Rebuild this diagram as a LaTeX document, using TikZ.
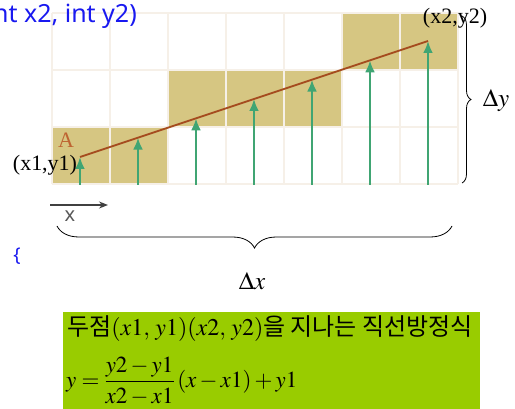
\documentclass[tikz,border=0pt]{standalone}
\usepackage{amsmath}
\usepackage{mathptmx}
\usepackage{fontspec}
\setmainfont{Liberation Serif}
\newfontfamily\kofont{Noto Sans CJK KR}
\newfontfamily\codefont{Noto Sans}
\usetikzlibrary{arrows.meta,positioning,decorations.pathreplacing}
\definecolor{cellfill}{RGB}{214,198,130}
\definecolor{gridcol}{RGB}{246,240,232}
\definecolor{segcol}{RGB}{165,75,30}
\definecolor{arrcol}{RGB}{64,165,115}
\definecolor{codeblue}{RGB}{25,25,240}
\definecolor{boxgreen}{RGB}{153,204,0}
\definecolor{labA}{RGB}{190,100,50}
\tikzset{
  gridln/.style={draw=gridcol, line width=1.5pt},
  stemarrow/.style={-{Latex[length=12pt,width=10pt]}, line width=2.4pt, arrcol},
  segln/.style={segcol, line width=1.8pt},
  bracedeco/.style={decorate, decoration={brace, amplitude=#1}, line width=0.8pt},
  bracelabel/.style={font=\fontsize{25}{27}\selectfont, inner sep=0pt},
  ptlabel/.style={font=\fontsize{22}{24}\selectfont, inner sep=0pt},
}
\begin{document}
\begin{tikzpicture}[x=1pt, y=-1pt]
    \useasboundingbox (0,0) rectangle (515,409);
    % Shaded pixels
    \fill[cellfill] (52,127) rectangle (168,184);
    \fill[cellfill] (168,70) rectangle (342,127);
    \fill[cellfill] (342,13) rectangle (458,70);
    % Pixel grid
    \foreach \k in {0,...,7}
      \draw[gridln] ({52+58*\k},13) -- ({52+58*\k},184);
    \foreach \r in {13,70,127,184}
      \draw[gridln] (52,\r) -- (458,\r);
    % Ideal line from (x1,y1) to (x2,y2)
    \coordinate (P1) at (80,157);
    \coordinate (P2) at (428,41);
    % Sample columns
    \foreach \i in {0,...,6}{
      \coordinate (b\i) at ({80+58*\i},185);
      \coordinate (t\i) at ({80+58*\i},{157-116*\i/6});
      \draw[stemarrow] (b\i) -- (t\i);
    }
    \draw[segln] (P1) -- (P2);
    \node[labA, font=\fontsize{22}{24}\selectfont, inner sep=0pt] (lblA) at (66,140) {A};
    \node[ptlabel] (p1lbl) at (45,165) {(x1,y1)};
    \node[ptlabel] (p2lbl) at (455,18) {(x2,y2)};
    % Braces
    \coordinate (dyT) at (462,16);
    \coordinate (dyB) at (462,183);
    \draw[bracedeco=9pt] (dyT) -- (dyB);
    \node[bracelabel] (dy) at (496,101) {$\Delta y$};
    \coordinate (dxR) at (452,226);
    \coordinate (dxL) at (57,226);
    \draw[bracedeco=22pt] (dxR) -- (dxL);
    \node[bracelabel] (dx) at (252,281) {$\Delta x$};
    % x direction
    \coordinate (xs) at (50,205);
    \coordinate (xe) at (108,205);
    \draw[-{Stealth[length=9pt,width=7pt]}, line width=1.3pt, black!75] (xs) -- (xe);
    \node[gray!70!black, font=\codefont\fontsize{20}{22}\selectfont, inner sep=0pt] (xlbl) at (70,216) {x};
    % Code fragments
    \node[codeblue, font=\codefont\fontsize{25}{27}\selectfont, anchor=east, inner sep=0pt] (code) at (137,16) {nt x2, int y2)};
    \node[codeblue, font=\codefont\fontsize{19}{21}\selectfont, inner sep=0pt] (brc) at (17,256) {\{};
    % Line equation box
    \fill[boxgreen] (63,312) rectangle (480,409);
    \node[anchor=west, inner sep=0pt, font=\fontsize{24}{26}\selectfont] (eqtitle) at (67,329)
      {{\kofont 두점}$(x1,\,y1)(x2,\,y2)${\kofont 을 지나는 직선방정식}};
    \node[anchor=west, inner sep=0pt, font=\fontsize{23}{25}\selectfont] (eq) at (66,381)
      {$y=\dfrac{y2-y1}{x2-x1}\,(x-x1)+y1$};
\end{tikzpicture}
\end{document}
